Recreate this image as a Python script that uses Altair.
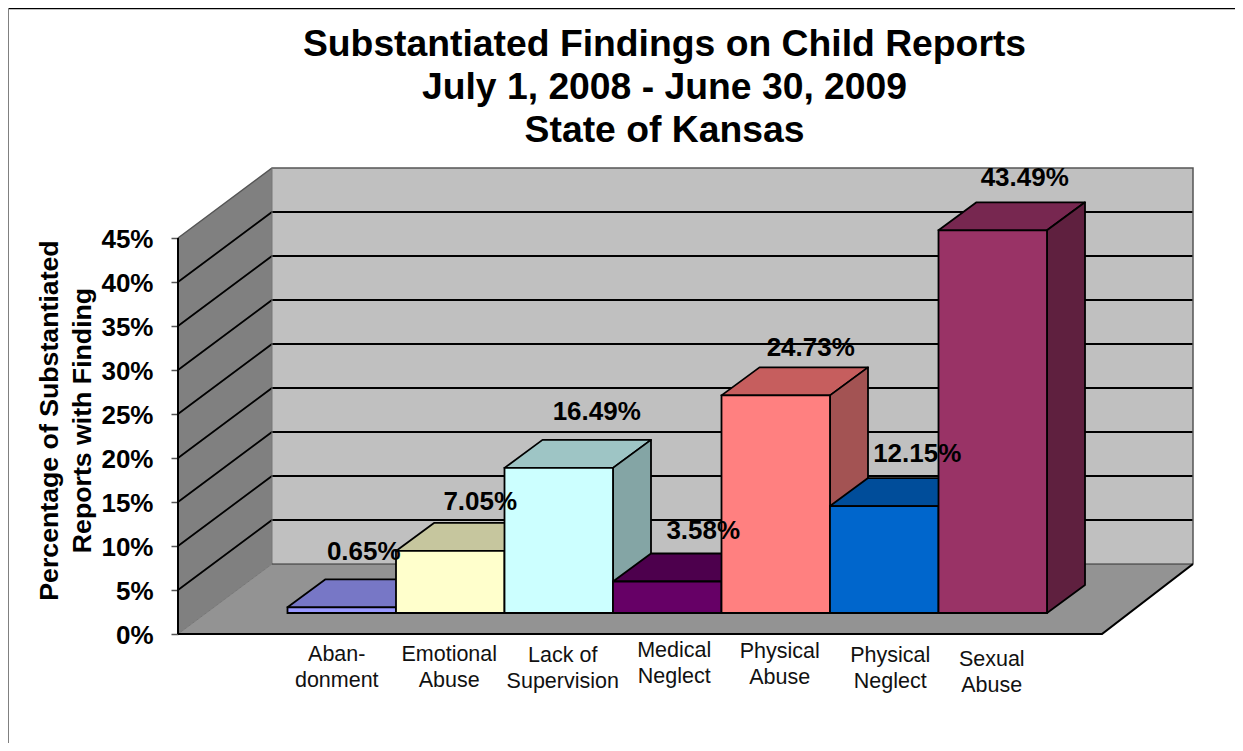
import altair as alt

categories = [["Aban-", "donment"], ["Emotional", "Abuse"], ["Lack of", "Supervision"], ["Medical", "Neglect"],
              ["Physical", "Abuse"], ["Physical", "Neglect"], ["Sexual", "Abuse"]]
values = [0.65, 7.05, 16.49, 3.58, 24.73, 12.15, 43.49]
value_labels = ["0.65%", "7.05%", "16.49%", "3.58%", "24.73%", "12.15%", "43.49%"]
front_colors = ["#9999FF", "#FFFFCC", "#CCFFFF", "#660066", "#FF8080", "#0066CC", "#993366"]
top_colors = ["#7777C6", "#C6C69E", "#9EC5C5", "#4D004D", "#C65E5E", "#004D9A", "#772750"]
side_colors = ["#6060A0", "#A5A585", "#84A5A5", "#400040", "#A35353", "#004080", "#5F203F"]
tick_values = [0, 5, 10, 15, 20, 25, 30, 35, 40, 45]

# nudges of the labels relative to the bar they belong to (pixels)
label_dx = [3, 11, 19, 17, 16, 14, 13]
label_dy = [-27, -21, -28, -22, -19, -24, -24]
cat_dx = [-5, -1, 4, 7, 4, 6, -1]
cat_dy = [10, 10, 11, 6, 7, 11, 15]

# Geometry in data units: x in bar widths (0 = left edge of first bar), y in percent
W, H = 1227, 735
px_x, px_y = 108.5, 8.8
bar0 = 287.5
x_dom = [(8 - bar0) / px_x, (8 + W - bar0) / px_x]
y_dom = [(634 - 8 - H) / px_y, (634 - 8) / px_y]
xs = alt.Scale(domain=x_dom, nice=False, zero=False)
ys = alt.Scale(domain=y_dom, nice=False, zero=False)

wall_front, wall_back = (178 - bar0) / px_x, (272 - bar0) / px_x
floor_right_front, floor_right_back = (1102 - bar0) / px_x, (1193 - bar0) / px_x
floor_dy = 70 / px_y
bar_dx, bar_dy = 38 / px_x, 28 / px_y
base = 21 / px_y
top_tick = tick_values[-1]

y_axis = alt.Axis(
    values=tick_values, offset=-170, domain=False, grid=False,
    labelExpr="datum.value + '%'", labelFont="Liberation Sans", labelFontWeight="bold",
    labelFontSize=26, labelColor="#000000", labelPadding=18, labelOffset=1.5,
    tickSize=7, tickColor="#555555", tickWidth=1.5,
    title=["Percentage of Substantiated", "Reports with Finding"],
    titleFont="Liberation Sans", titleFontWeight="bold", titleFontSize=26.7, titleColor="#000000",
    titleX=-115, titleY=412, titleAngle=-90, titleLineHeight=33,
)

X = lambda f="x": alt.X(f"{f}:Q", scale=xs, axis=None, title=None)
Y = lambda f="y": alt.Y(f"{f}:Q", scale=ys, axis=y_axis)


def D(rows):
    return alt.Data(values=rows)


layers = []

# Back wall
layers.append(
    alt.Chart(D([{"x": wall_back, "x2": floor_right_back, "y": floor_dy, "y2": floor_dy + top_tick}]))
    .mark_rect(color="#C0C0C0")
    .encode(x=X(), x2="x2:Q", y=Y(), y2="y2:Q")
)
# Left wall
layers.append(
    alt.Chart(D([{"x": wall_front, "y": 0, "y2": top_tick}, {"x": wall_back, "y": floor_dy, "y2": floor_dy + top_tick}]))
    .mark_area(color="#808080", orient="vertical")
    .encode(x=X(), y=Y(), y2="y2:Q")
)
# Floor
layers.append(
    alt.Chart(D([{"y": 0, "x": wall_front, "x2": floor_right_front}, {"y": floor_dy, "x": wall_back, "x2": floor_right_back}]))
    .mark_area(color="#939393", orient="horizontal")
    .encode(y=Y(), x=X(), x2="x2:Q")
)

# Grid lines on the walls
grid_rows = []
for t in tick_values[1:-1]:
    grid_rows += [{"x": wall_front, "y": t, "t": t, "o": 0}, {"x": wall_back, "y": t + floor_dy, "t": t, "o": 1},
                  {"x": floor_right_back, "y": t + floor_dy, "t": t, "o": 2}]
layers.append(
    alt.Chart(D(grid_rows))
    .mark_line(color="#000000", strokeWidth=1.8)
    .encode(x=X(), y=Y(), detail="t:N", order="o:Q")
)
# Wall outline (top edge, right edge)
layers.append(
    alt.Chart(D([{"x": wall_front, "y": top_tick, "o": 0}, {"x": wall_back, "y": top_tick + floor_dy, "o": 1},
                 {"x": floor_right_back, "y": top_tick + floor_dy, "o": 2}, {"x": floor_right_back, "y": floor_dy, "o": 3}]))
    .mark_line(color="#555555", strokeWidth=1.5)
    .encode(x=X(), y=Y(), order="o:Q")
)
layers.append(
    alt.Chart(D([{"x": wall_front, "y": 0, "o": 0}, {"x": wall_back, "y": floor_dy, "o": 1},
                 {"x": wall_back, "y": top_tick + floor_dy, "o": 2}]))
    .mark_line(color="#777777", strokeWidth=1)
    .encode(x=X(), y=Y(), order="o:Q")
)
layers.append(
    alt.Chart(D([{"x": wall_back, "y": floor_dy, "o": 0}, {"x": floor_right_back, "y": floor_dy, "o": 1}]))
    .mark_line(color="#333333", strokeWidth=1.2)
    .encode(x=X(), y=Y(), order="o:Q")
)
# Floor front + right edge, and vertical axis line
layers.append(
    alt.Chart(D([{"x": wall_front, "y": 0, "o": 0}, {"x": floor_right_front, "y": 0, "o": 1},
                 {"x": floor_right_back, "y": floor_dy, "o": 2}]))
    .mark_line(color="#000000", strokeWidth=2.2)
    .encode(x=X(), y=Y(), order="o:Q")
)
layers.append(
    alt.Chart(D([{"x": wall_front, "y": 0, "o": 0}, {"x": wall_front, "y": top_tick, "o": 1}]))
    .mark_line(color="#000000", strokeWidth=2)
    .encode(x=X(), y=Y(), order="o:Q")
)

# Bars
for i, v in enumerate(values):
    l, r = float(i), float(i + 1)
    top = base + v
    layers.append(
        alt.Chart(D([{"y": top, "x": l, "x2": r}, {"y": top + bar_dy, "x": l + bar_dx, "x2": r + bar_dx}]))
        .mark_area(color=top_colors[i], orient="horizontal", stroke="#000000", strokeWidth=1.8, strokeJoin="round")
        .encode(y=Y(), x=X(), x2="x2:Q")
    )
    layers.append(
        alt.Chart(D([{"x": r, "y": base, "y2": top}, {"x": r + bar_dx, "y": base + bar_dy, "y2": top + bar_dy}]))
        .mark_area(color=side_colors[i], orient="vertical", stroke="#000000", strokeWidth=1.8, strokeJoin="round")
        .encode(x=X(), y=Y(), y2="y2:Q")
    )
    layers.append(
        alt.Chart(D([{"x": l, "x2": r, "y": base, "y2": top}]))
        .mark_rect(color=front_colors[i], stroke="#000000", strokeWidth=1.8)
        .encode(x=X(), x2="x2:Q", y=Y(), y2="y2:Q")
    )

# Value labels
for i, v in enumerate(values):
    layers.append(
        alt.Chart(D([{"x": i + 0.5 + bar_dx / 2, "y": base + v + bar_dy, "t": value_labels[i]}]))
        .mark_text(font="Liberation Sans", fontWeight="bold", fontSize=26, color="#000000",
                   baseline="middle", align="center", dx=label_dx[i], dy=label_dy[i])
        .encode(x=X(), y=Y(), text="t:N")
    )

# Category labels
for i, c in enumerate(categories):
    layers.append(
        alt.Chart(D([{"x": i + 0.5, "y": 0, "t": "\n".join(c)}]))
        .mark_text(font="Liberation Sans", fontSize=21.5, color="#111111", baseline="top", align="center",
                   lineBreak="\n", lineHeight=25.5, dx=cat_dx[i], dy=cat_dy[i])
        .encode(x=X(), y=Y(), text="t:N")
    )

# Outer border
layers.append(alt.Chart(D([{"a": 1}])).mark_rule(color="#000000", strokeWidth=1.5)
              .encode(x=alt.value(0), x2=alt.value(W), y=alt.value(0.5)))
layers.append(alt.Chart(D([{"a": 1}])).mark_rule(color="#808080", strokeWidth=2)
              .encode(x=alt.value(0), y=alt.value(0), y2=alt.value(H)))

chart = alt.layer(*layers).properties(
    width=W, height=H,
    padding=0,
    autosize=alt.AutoSizeParams(type="none"),
    title=alt.Title(
        ["Substantiated Findings on Child Reports", "July 1, 2008 - June 30, 2009", "State of Kansas"],
        font="Liberation Sans", fontWeight="bold", fontSize=37.3, lineHeight=43, color="#000000",
        anchor="middle", frame="group", offset=0, dx=43, dy=180, baseline="bottom",
    ),
).configure_view(stroke=None).configure(background="#FFFFFF")

chart.save("out.html", embed_options={"renderer": "svg", "actions": False})
